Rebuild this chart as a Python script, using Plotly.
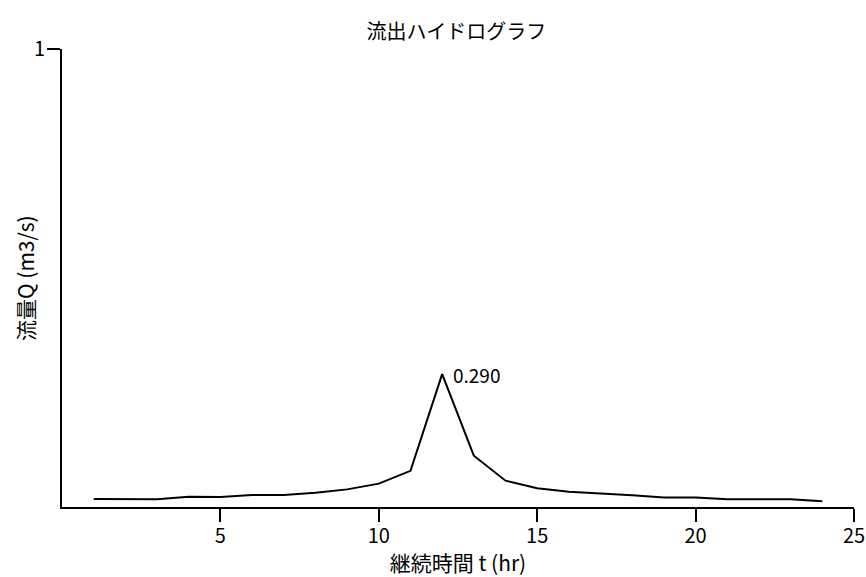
import plotly.graph_objects as go

# Runoff hydrograph: hourly discharge (m3/s)
hours = list(range(1, 25))
discharge = [0.0175, 0.0175, 0.017, 0.0225, 0.022, 0.026, 0.026, 0.031,
             0.0385, 0.051, 0.079, 0.290, 0.112, 0.0575, 0.041, 0.0335,
             0.030, 0.0255, 0.021, 0.021, 0.017, 0.017, 0.017, 0.0125]
x_ticks = [5, 10, 15, 20, 25]
y_ticks = [1]

FONT = "Noto Sans CJK JP, sans-serif"

peak_q = max(discharge)
peak_t = hours[discharge.index(peak_q)]

fig = go.Figure()
fig.add_trace(go.Scatter(
    x=hours, y=discharge, mode="lines",
    line=dict(color="black", width=2),
    showlegend=False, hoverinfo="skip",
))

# peak value label
fig.add_annotation(
    x=peak_t, y=peak_q, text=f"{peak_q:.3f}",
    showarrow=False, xanchor="left", yanchor="middle",
    xshift=9, font=dict(family=FONT, size=19, color="black"),
)

# vertical y-axis title placed beside the axis
fig.add_annotation(
    xref="paper", yref="paper", x=0, y=0.5, xshift=-37,
    text="流量Q (m3/s)", textangle=-90, showarrow=False,
    xanchor="center", yanchor="middle",
    font=dict(family=FONT, size=21, color="black"),
)

axis_common = dict(
    showgrid=False, zeroline=False, showline=True, automargin=False,
    linecolor="black", linewidth=2,
    ticks="outside", ticklen=13, tickwidth=1.5, tickcolor="black",
    ticklabeloverflow="allow",
    tickfont=dict(family=FONT, size=20, color="black"),
)

fig.update_layout(
    width=866, height=577,
    margin=dict(l=62, r=12, t=49, b=70),
    paper_bgcolor="white", plot_bgcolor="white",
    title=dict(text="流出ハイドログラフ", x=0.527, xanchor="center",
               y=0.945, yanchor="middle", automargin=False,
               font=dict(family=FONT, size=20, color="black")),
    xaxis=dict(range=[0, 25], tickvals=x_ticks, ticklabelstandoff=-3,
               title=dict(text="継続時間 t (hr)", standoff=6,
                          font=dict(family=FONT, size=21, color="black")),
               **axis_common),
    yaxis=dict(range=[0, 1], tickvals=y_ticks, ticklabelstandoff=-2,
               **axis_common),
)

fig.write_html("out.html")
